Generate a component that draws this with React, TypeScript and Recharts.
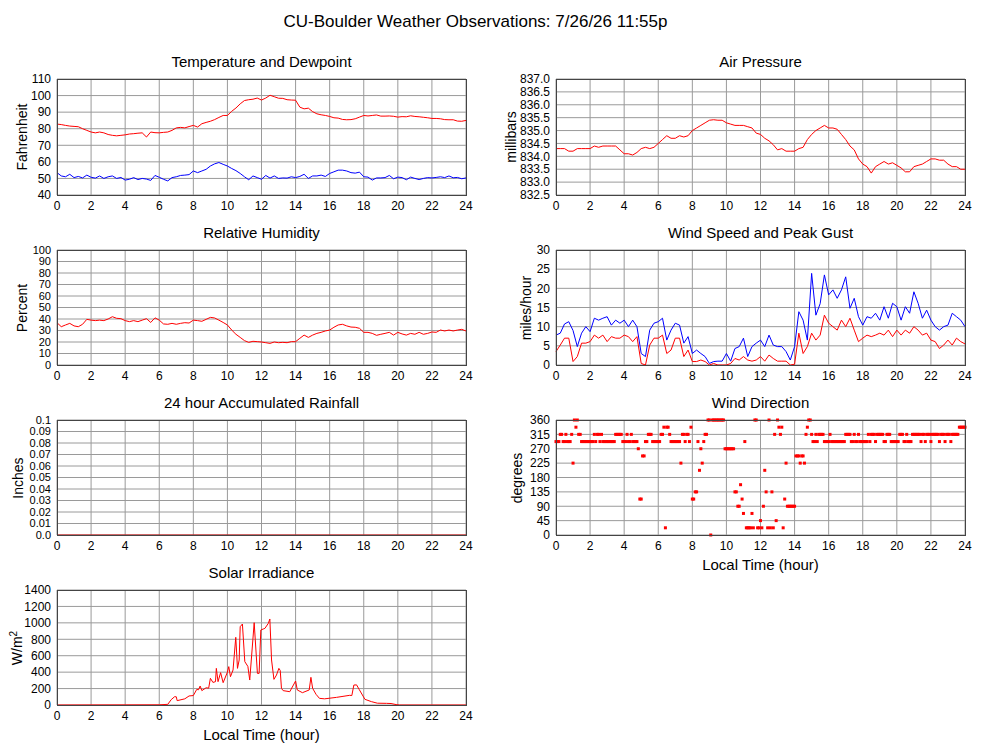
import React from "react";
import { LineChart, Line, ScatterChart, Scatter, XAxis, YAxis, CartesianGrid } from "recharts";

const FONT = '"Liberation Sans", Arial, Helvetica, sans-serif';

// time axis (hours), 15 minute samples
const HOURS = Array.from({ length: 97 }, (_, i) => i / 4);
const HOUR_TICKS = [0, 2, 4, 6, 8, 10, 12, 14, 16, 18, 20, 22, 24];

const temperature = [
  82.8, 82.5, 82.0, 81.6, 81.4, 81.2, 80.0, 79.0, 78.0, 77.5, 78.0, 77.5,
  76.5, 76.0, 75.7, 76.0, 76.3, 76.8, 77.0, 77.3, 77.5, 75.0, 78.0, 77.6,
  77.5, 77.8, 78.0, 79.0, 80.5, 80.8, 80.5, 81.3, 82.0, 81.0, 83.0, 83.8,
  84.5, 85.5, 86.8, 88.0, 88.0, 90.5, 92.5, 95.0, 97.0, 97.5, 97.8, 98.5,
  97.3, 98.5, 100.2, 99.3, 98.4, 98.3, 97.5, 97.3, 97.2, 93.0, 92.0, 92.4,
  90.3, 89.0, 88.4, 88.0, 87.4, 86.6, 86.4, 85.6, 85.4, 85.5, 86.0, 87.0,
  88.0, 87.7, 88.0, 88.3, 87.6, 87.6, 87.7, 87.5, 87.0, 87.3, 87.2, 87.8,
  87.4, 87.2, 86.9, 86.6, 86.2, 86.2, 86.0, 85.5, 85.4, 85.4, 84.6, 84.5,
  85.0,
];
const dewpoint = [
  53.5, 51.5, 51.0, 52.5, 50.5, 51.2, 50.3, 52.0, 50.7, 50.2, 51.5, 50.0,
  51.0, 51.5, 50.0, 50.6, 49.0, 49.5, 50.5, 49.3, 50.0, 49.6, 48.8, 51.8,
  50.7, 49.5, 48.5, 50.5, 51.0, 51.8, 52.0, 52.3, 54.5, 53.5, 54.5, 55.5,
  57.5, 58.8, 59.6, 58.5, 57.5, 56.0, 54.7, 53.0, 51.0, 49.2, 51.5, 50.5,
  49.5, 51.8, 50.2, 51.5, 50.0, 50.3, 50.2, 51.0, 50.5, 51.2, 52.5, 50.0,
  51.5, 51.5, 52.0, 51.2, 53.0, 54.0, 55.0, 55.0, 54.5, 53.5, 53.2, 53.8,
  51.0, 50.8, 49.0, 50.3, 50.3, 50.5, 51.8, 49.8, 50.8, 50.5, 49.2, 50.8,
  50.0, 49.3, 50.0, 50.5, 50.3, 50.6, 51.0, 50.5, 51.5, 50.4, 50.6, 49.8,
  50.3,
];
const pressure = [
  834.3, 834.3, 834.3, 834.2, 834.2, 834.3, 834.3, 834.3, 834.3, 834.4, 834.35, 834.4,
  834.4, 834.4, 834.4, 834.25, 834.1, 834.1, 834.05, 834.15, 834.3, 834.35, 834.3, 834.35,
  834.5, 834.65, 834.8, 834.7, 834.7, 834.8, 834.75, 834.8, 835.0, 835.1, 835.2, 835.3,
  835.4, 835.42, 835.4, 835.4, 835.3, 835.25, 835.2, 835.2, 835.2, 835.15, 835.1, 834.9,
  834.85, 834.7, 834.6, 834.45, 834.25, 834.3, 834.2, 834.2, 834.2, 834.3, 834.35, 834.65,
  834.85, 835.0, 835.1, 835.2, 835.1, 835.1, 835.05, 834.85, 834.65, 834.4, 834.25, 833.9,
  833.7, 833.6, 833.35, 833.6, 833.7, 833.8, 833.7, 833.75, 833.65, 833.55, 833.4, 833.4,
  833.6, 833.65, 833.7, 833.8, 833.9, 833.9, 833.85, 833.85, 833.7, 833.6, 833.6, 833.5,
  833.5,
];
const humidity = [
  36.8, 33.3, 34.8, 36.2, 34.0, 33.3, 35.4, 39.7, 39.0, 38.6, 39.0, 38.6,
  40.0, 42.0, 40.6, 40.3, 38.6, 37.7, 38.6, 37.7, 39.0, 40.3, 37.0, 41.0,
  39.0, 35.7, 35.4, 36.2, 35.4, 36.2, 36.8, 36.5, 39.0, 38.6, 38.0, 39.7,
  41.4, 40.9, 39.0, 37.0, 34.8, 30.4, 26.7, 24.0, 21.2, 19.7, 20.6, 20.3,
  20.0, 19.4, 18.8, 20.0, 19.4, 19.7, 19.4, 20.3, 20.3, 23.2, 26.0, 24.0,
  26.0, 27.5, 28.4, 29.6, 30.4, 32.8, 34.8, 35.4, 34.0, 33.0, 32.8, 31.9,
  28.4, 28.4, 27.5, 25.8, 26.7, 27.5, 28.4, 26.0, 28.4, 27.0, 26.0, 27.5,
  26.7, 28.4, 26.7, 27.5, 28.7, 28.4, 30.4, 29.6, 30.4, 29.6, 30.4, 31.0,
  29.6,
];
const windSpeed = [
  3.5, 5.2, 7.0, 7.0, 0.9, 2.2, 5.7, 5.7, 6.1, 7.8, 7.0, 7.8,
  6.1, 7.4, 7.0, 7.0, 7.8, 7.4, 6.1, 7.4, 0.4, 0.0, 5.2, 7.0,
  7.0, 7.8, 3.0, 3.9, 7.0, 7.0, 2.2, 3.9, 0.9, 0.9, 1.3, 0.9,
  0.0, 0.4, 0.0, 0.0, 0.0, 0.4, 1.7, 1.3, 2.2, 1.3, 1.0, 1.3,
  2.2, 1.0, 2.6, 1.7, 1.0, 1.0, 1.0, 0.0, 0.2, 8.3, 3.0, 4.8,
  8.3, 6.5, 7.8, 13.0, 10.9, 10.0, 9.1, 11.7, 10.0, 12.2, 9.1, 6.1,
  7.0, 7.8, 7.4, 7.8, 8.3, 7.8, 9.1, 7.4, 9.1, 7.8, 9.1, 8.3,
  10.0, 9.1, 7.8, 8.3, 6.5, 6.1, 4.3, 5.2, 6.5, 5.2, 7.0, 6.1,
  5.5,
];
const windGust = [
  7.8, 8.3, 10.7, 11.3, 9.0, 4.8, 8.3, 10.0, 8.7, 12.2, 11.7, 12.2,
  12.6, 10.4, 11.7, 10.9, 11.7, 10.0, 11.7, 10.0, 3.0, 2.2, 9.1, 10.9,
  11.3, 12.2, 6.5, 9.1, 10.9, 10.4, 5.7, 7.4, 3.0, 3.9, 3.0, 2.2,
  0.4, 0.9, 1.0, 1.0, 3.0, 1.0, 4.3, 4.8, 7.0, 2.2, 4.8, 5.7,
  6.5, 4.8, 7.8, 5.2, 4.8, 4.8, 3.5, 1.3, 4.8, 13.9, 11.7, 6.5,
  23.9, 13.0, 16.0, 23.5, 18.3, 19.6, 17.4, 19.6, 23.0, 14.8, 17.4, 12.6,
  10.4, 12.6, 12.2, 13.5, 11.7, 15.2, 12.2, 16.1, 15.2, 11.7, 15.2, 13.5,
  19.1, 16.1, 12.2, 14.3, 11.7, 10.0, 9.1, 10.0, 10.4, 13.5, 12.6, 11.7,
  10.0,
];

const rainHours = [0, 24];
const rainfall = [0, 0];

const solarHours = [
  0, 6.0, 6.5, 6.7, 6.9, 7.0, 7.05, 7.5, 7.75, 8.0, 8.2, 8.3, 8.4, 8.5, 8.75, 8.9,
  9.0, 9.15, 9.3, 9.35, 9.45, 9.6, 9.75, 10.0, 10.08, 10.18, 10.33, 10.49, 10.59, 10.69,
  10.75, 10.88, 11.02, 11.2, 11.31, 11.57, 11.76, 11.86, 11.96, 12.1, 12.2, 12.4, 12.49,
  12.59, 12.73, 12.88, 13.02, 13.1, 13.17, 13.27, 13.66, 14.0, 14.1, 14.4, 14.8, 14.9,
  15.0, 15.2, 15.4, 15.7, 16.4, 17.18, 17.3, 17.42, 17.58, 17.73, 18.07, 18.45, 18.8,
  19.34, 19.6, 19.9, 20.1, 24,
];
const solarValues = [
  0, 2, 8, 65, 101, 100, 53, 75, 110, 115, 190, 185, 231, 175, 210, 205,
  325, 275, 284, 446, 284, 394, 272, 400, 467, 345, 426, 824, 446, 548,
  953, 986, 528, 470, 304, 1002, 385, 385, 913, 925, 933, 994, 1047,
  548, 312, 365, 446, 420, 203, 175, 162, 292, 183, 150, 183, 337,
  203, 130, 81, 75, 93, 118, 115, 243, 245, 190, 69, 41, 22,
  20, 18, 5, 0, 0,
];

// wind direction observations: [hour, degrees]
const windDir: [number, number][] = [
  [0.0, 292.5], [0.08, 292.5], [0.17, 292.5], [0.25, 315], [0.33, 315], [0.42, 292.5], [0.5, 292.5],
  [0.58, 315], [0.67, 292.5], [0.75, 292.5], [0.83, 292.5], [0.92, 315], [1.0, 225], [1.08, 360],
  [1.17, 337.5], [1.25, 360], [1.33, 315], [1.42, 315], [1.5, 292.5], [1.58, 292.5], [1.67, 292.5],
  [1.75, 292.5], [1.83, 292.5], [1.92, 292.5], [2.0, 292.5], [2.08, 292.5], [2.17, 292.5], [2.25, 315],
  [2.33, 292.5], [2.42, 315], [2.5, 315], [2.58, 292.5], [2.67, 315], [2.75, 292.5], [2.83, 292.5],
  [2.92, 292.5], [3.0, 292.5], [3.08, 292.5], [3.17, 292.5], [3.25, 292.5], [3.33, 292.5], [3.42, 292.5],
  [3.5, 315], [3.58, 315], [3.67, 315], [3.75, 315], [3.83, 315], [3.92, 292.5], [4.0, 292.5],
  [4.08, 292.5], [4.17, 315], [4.25, 292.5], [4.33, 292.5], [4.42, 315], [4.5, 292.5], [4.58, 292.5],
  [4.67, 292.5], [4.75, 292.5], [4.83, 270], [4.92, 112.5], [5.0, 112.5], [5.08, 247.5], [5.17, 247.5],
  [5.25, 292.5], [5.33, 292.5], [5.42, 315], [5.5, 315], [5.58, 315], [5.67, 292.5], [5.75, 292.5],
  [5.83, 292.5], [5.92, 292.5], [6.0, 292.5], [6.08, 292.5], [6.17, 315], [6.25, 315], [6.33, 337.5],
  [6.42, 22.5], [6.5, 337.5], [6.58, 337.5], [6.67, 315], [6.75, 292.5], [6.83, 292.5], [6.92, 292.5],
  [7.0, 292.5], [7.08, 292.5], [7.17, 292.5], [7.25, 292.5], [7.33, 225], [7.42, 315], [7.5, 315],
  [7.58, 292.5], [7.67, 315], [7.75, 315], [7.83, 292.5], [7.92, 337.5], [8.0, 112.5], [8.08, 112.5],
  [8.17, 135], [8.25, 135], [8.33, 292.5], [8.42, 202.5], [8.5, 270], [8.58, 225], [8.67, 292.5],
  [8.75, 315], [8.83, 315], [8.92, 360], [9.0, 360], [9.08, 0], [9.17, 360], [9.25, 360], [9.33, 360],
  [9.42, 360], [9.5, 360], [9.58, 360], [9.67, 360], [9.75, 360], [9.83, 360], [9.92, 270], [10.0, 270],
  [10.08, 270], [10.17, 270], [10.25, 270], [10.33, 270], [10.42, 270], [10.5, 135], [10.58, 135],
  [10.67, 90], [10.75, 90], [10.83, 157.5], [10.92, 112.5], [11.0, 67.5], [11.08, 292.5], [11.17, 22.5],
  [11.25, 22.5], [11.33, 22.5], [11.42, 22.5], [11.5, 67.5], [11.58, 22.5], [11.67, 360], [11.75, 360],
  [11.83, 22.5], [11.92, 22.5], [12.0, 45], [12.08, 22.5], [12.17, 90], [12.25, 202.5], [12.33, 135],
  [12.42, 22.5], [12.5, 360], [12.58, 22.5], [12.67, 135], [12.75, 22.5], [12.83, 315], [12.92, 45],
  [13.0, 360], [13.08, 337.5], [13.17, 315], [13.25, 337.5], [13.33, 22.5], [13.42, 112.5], [13.5, 225],
  [13.58, 90], [13.67, 90], [13.75, 90], [13.83, 90], [13.92, 90], [14.0, 90], [14.08, 247.5],
  [14.17, 247.5], [14.25, 247.5], [14.33, 225], [14.42, 247.5], [14.5, 247.5], [14.58, 225], [14.67, 315],
  [14.75, 337.5], [14.83, 360], [14.92, 360], [15.0, 315], [15.08, 292.5], [15.17, 292.5], [15.25, 315],
  [15.33, 292.5], [15.42, 315], [15.5, 315], [15.58, 315], [15.67, 315], [15.75, 292.5], [15.83, 292.5],
  [15.92, 292.5], [16.0, 292.5], [16.08, 315], [16.17, 292.5], [16.25, 292.5], [16.33, 292.5],
  [16.42, 292.5], [16.5, 292.5], [16.58, 292.5], [16.67, 292.5], [16.75, 292.5], [16.83, 292.5],
  [16.92, 292.5], [17.0, 315], [17.08, 315], [17.17, 315], [17.25, 315], [17.33, 292.5], [17.42, 292.5],
  [17.5, 315], [17.58, 292.5], [17.67, 292.5], [17.75, 315], [17.83, 292.5], [17.92, 292.5], [18.0, 292.5],
  [18.08, 292.5], [18.17, 292.5], [18.25, 292.5], [18.33, 315], [18.42, 292.5], [18.5, 315], [18.58, 315],
  [18.67, 315], [18.75, 292.5], [18.83, 315], [18.92, 315], [19.0, 315], [19.08, 315], [19.17, 315],
  [19.25, 292.5], [19.33, 292.5], [19.42, 315], [19.5, 315], [19.58, 315], [19.67, 292.5], [19.75, 292.5],
  [19.83, 292.5], [19.92, 292.5], [20.0, 292.5], [20.08, 292.5], [20.17, 315], [20.25, 315], [20.33, 315],
  [20.42, 292.5], [20.5, 292.5], [20.58, 315], [20.67, 292.5], [20.75, 292.5], [20.83, 292.5], [20.92, 315],
  [21.0, 315], [21.08, 315], [21.17, 315], [21.25, 315], [21.33, 315], [21.42, 292.5], [21.5, 315],
  [21.58, 315], [21.67, 292.5], [21.75, 315], [21.83, 315], [21.92, 315], [22.0, 292.5], [22.08, 315],
  [22.17, 315], [22.25, 315], [22.33, 315], [22.42, 315], [22.5, 292.5], [22.58, 315], [22.67, 315],
  [22.75, 315], [22.83, 292.5], [22.92, 315], [23.0, 315], [23.08, 315], [23.17, 292.5], [23.25, 315],
  [23.33, 315], [23.42, 315], [23.5, 315], [23.58, 315], [23.67, 337.5], [23.75, 337.5], [23.83, 337.5],
  [23.92, 337.5], [24.0, 337.5],
];

const tempTicks = [40, 50, 60, 70, 80, 90, 100, 110];
const pressureTicks = [832.5, 833, 833.5, 834, 834.5, 835, 835.5, 836, 836.5, 837];
const humidityTicks = [0, 10, 20, 30, 40, 50, 60, 70, 80, 90, 100];
const windTicks = [0, 5, 10, 15, 20, 25, 30];
const rainTicks = [0, 0.01, 0.02, 0.03, 0.04, 0.05, 0.06, 0.07, 0.08, 0.09, 0.1];
const solarTicks = [0, 200, 400, 600, 800, 1000, 1200, 1400];
const dirTicks = [0, 45, 90, 135, 180, 225, 270, 315, 360];

const tempRows = HOURS.map((h, i) => ({ h, temp: temperature[i], dew: dewpoint[i] }));
const pressureRows = HOURS.map((h, i) => ({ h, p: pressure[i] }));
const humidityRows = HOURS.map((h, i) => ({ h, rh: humidity[i] }));
const windRows = HOURS.map((h, i) => ({ h, speed: windSpeed[i], gust: windGust[i] }));
const rainRows = rainHours.map((h, i) => ({ h, rain: rainfall[i] }));
const solarRows = solarHours.map((h, i) => ({ h, sol: solarValues[i] }));
const dirRows = windDir.map(([h, deg]) => ({ h, deg }));

const PLOT_W = 409;
const AXIS_W = 50;
const PAD_TOP = 10;
const AXIS_H = 30;

const Label = ({ x, y, size, rotate, children }: any) => (
  <div
    style={{
      position: "absolute",
      left: x,
      top: y,
      transform: `translate(-50%, -50%)${rotate ? " rotate(-90deg)" : ""}`,
      fontSize: size,
      lineHeight: 1,
      whiteSpace: "nowrap",
      color: "#000",
    }}
  >
    {children}
  </div>
);

const Square = (p: any) => <rect x={p.cx - 1.5} y={p.cy - 1.5} width={3} height={3} fill="#ff0000" />;

const tickStyle = { fill: "#000", fontSize: 12, fontFamily: FONT };
const denseTickStyle = { fill: "#000", fontSize: 11, fontFamily: FONT };

function Panel({ left, top, height, title, yLabel, yLabelX, domain, ticks, fmt, data, scatter, yKey, xTitle, dense, children }: any) {
  const Chart: any = scatter ? ScatterChart : LineChart;
  return (
    <>
      <Label x={left + PLOT_W / 2} y={top - 18.5} size={15}>{title}</Label>
      <Label x={yLabelX} y={top + height / 2} size={14} rotate>{yLabel}</Label>
      <div style={{ position: "absolute", left: left - AXIS_W, top: top - PAD_TOP }}>
        <Chart
          width={AXIS_W + PLOT_W + 10}
          height={PAD_TOP + height + AXIS_H}
          data={data}
          margin={{ top: PAD_TOP, right: 10, bottom: 0, left: 0 }}
        >
          <CartesianGrid stroke="#9a9a9a" />
          <XAxis
            dataKey="h"
            type="number"
            domain={[0, 24]}
            ticks={HOUR_TICKS}
            interval={0}
            height={AXIS_H}
            axisLine={false}
            tickLine={false}
            tickSize={0}
            tickMargin={6}
            tick={tickStyle}
          />
          <YAxis
            dataKey={yKey}
            type="number"
            domain={domain}
            ticks={ticks}
            interval={0}
            width={AXIS_W}
            axisLine={false}
            tickLine={false}
            tickSize={0}
            tickMargin={6}
            tickFormatter={fmt}
            tick={dense ? denseTickStyle : tickStyle}
          />
          {children}
        </Chart>
      </div>
      <div
        style={{
          position: "absolute",
          left,
          top,
          width: PLOT_W + 1,
          height: height + 1,
          border: "1px solid #444",
          boxSizing: "border-box",
          pointerEvents: "none",
        }}
      />
      {xTitle && <Label x={left + PLOT_W / 2} y={top + height + 29} size={15}>Local Time (hour)</Label>}
    </>
  );
}

const lineProps = { dot: false, strokeWidth: 1, isAnimationActive: false, type: "linear" as const };

export default function App() {
  return (
    <div
      style={{
        position: "absolute",
        left: 0,
        top: 0,
        width: 1000,
        height: 745,
        background: "#fff",
        fontFamily: FONT,
        overflow: "hidden",
      }}
    >
      <Label x={475.5} y={20.5} size={17}>CU-Boulder Weather Observations: 7/26/26 11:55p</Label>

      {/* left column */}
      <Panel left={57} top={79} height={116} title="Temperature and Dewpoint" yLabel="Fahrenheit" yLabelX={22}
        domain={[40, 110]} ticks={tempTicks} data={tempRows}>
        <Line dataKey="temp" stroke="#ff0000" {...lineProps} />
        <Line dataKey="dew" stroke="#0000ff" {...lineProps} />
      </Panel>
      <Panel left={57} top={250} height={115} title="Relative Humidity" yLabel="Percent" yLabelX={22}
        domain={[0, 100]} ticks={humidityTicks} data={humidityRows} dense>
        <Line dataKey="rh" stroke="#ff0000" {...lineProps} />
      </Panel>
      <Panel left={57} top={420} height={115} title="24 hour Accumulated Rainfall" yLabel="Inches" yLabelX={18}
        domain={[0, 0.1]} ticks={rainTicks} data={rainRows} dense
        fmt={(v: number) => (v === 0 ? "0.0" : v === 0.1 ? "0.1" : v.toFixed(2))}>
        <Line dataKey="rain" stroke="#cc0000" {...lineProps} />
      </Panel>
      <Panel left={57} top={590} height={115} title="Solar Irradiance" yLabel={<span>W/m<sup style={{ fontSize: 10 }}>2</sup></span>}
        yLabelX={16} domain={[0, 1400]} ticks={solarTicks} data={solarRows} xTitle>
        <Line dataKey="sol" stroke="#ff0000" {...lineProps} />
      </Panel>

      {/* right column */}
      <Panel left={556} top={79} height={116} title="Air Pressure" yLabel="millibars" yLabelX={511}
        domain={[832.5, 837]} ticks={pressureTicks} data={pressureRows} fmt={(v: number) => v.toFixed(1)}>
        <Line dataKey="p" stroke="#ff0000" {...lineProps} />
      </Panel>
      <Panel left={556} top={250} height={115} title="Wind Speed and Peak Gust" yLabel="miles/hour" yLabelX={526}
        domain={[0, 30]} ticks={windTicks} data={windRows}>
        <Line dataKey="gust" stroke="#0000ff" {...lineProps} />
        <Line dataKey="speed" stroke="#ff0000" {...lineProps} />
      </Panel>
      <Panel left={556} top={420} height={115} title="Wind Direction" yLabel="degrees" yLabelX={517}
        domain={[0, 360]} ticks={dirTicks} scatter yKey="deg" xTitle>
        <Scatter data={dirRows} dataKey="deg" shape={Square} isAnimationActive={false} />
      </Panel>
    </div>
  );
}
